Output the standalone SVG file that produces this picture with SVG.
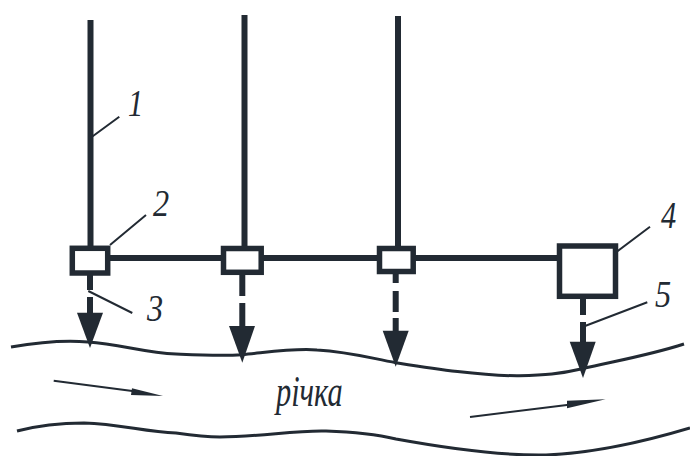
<svg xmlns="http://www.w3.org/2000/svg" width="690" height="456" viewBox="0 0 690 456">
<style>
.pipe{stroke:#222a33;stroke-width:6;fill:none}
.box{stroke:#222a33;stroke-width:5.500;fill:#fff}
.thin{stroke:#222a33;stroke-width:2;fill:none}
.river{stroke:#222a33;stroke-width:3;fill:none}
.head{fill:#222a33}
text{font-family:"Liberation Serif","Times New Roman",serif;font-style:italic;fill:#222a33}
.num{font-size:38px}
</style>
<rect width="690" height="456" fill="#fff"/>
<g id="river">
<path class="river" d="M11 347C40 342 65 340 88 342C120 344 145 353 176 354C200 355 220 356 242 354.700C270 352 295 348 317 350C350 352 370 358 396 362.700C430 368 480 376 519 375.700C545 375 560 374 581 369C620 360 650 355 684 344"/>
<path class="river" d="M17 431C40 425 62 423 84 423C120 424 145 432 176 433C190 435 205 437 220 437C260 437 295 430 326 431C355 432 375 434 396 439C440 447 500 456 546 455C600 453 650 440 690 428"/>
</g>
<g id="connectors">
<path class="pipe" d="M90.500 20V248M244.500 15V248M398 16V248M108 258H222M262 258H378M414 258H558"/>
<path class="pipe" d="M90 275V290M90 297V320M242.300 275V296M242.300 303V326M395.700 274V283M395.700 291V312M395.700 318V335M583 299V315M583 322V344"/>
<polygon class="head" points="77,312.700 103,312.700 90,348"/>
<polygon class="head" points="229,326 255,326 242.300,362.700"/>
<polygon class="head" points="382.700,330.700 408.700,330.700 395.700,366.700"/>
<polygon class="head" points="569.700,341.700 595.700,341.700 583,378"/>
</g>
<g id="leaders">
<path class="thin" d="M91.700 137L119.300 116.700M110 245L146 215M88.300 291L132.300 313M606.700 259.300L650 226.700M585 326L647.300 302.300"/>
</g>
<g id="flow-left">
<path class="thin" d="M53.700 380.700L140 392"/>
<polygon class="head" points="163,396 132,388.300 131,395"/>
</g>
<g id="flow-right">
<path class="thin" d="M470 417L575 404"/>
<polygon class="head" points="605.600,399.300 567,400.700 567,408.300"/>
</g>
<g id="node-1"><rect class="box" x="72.300" y="248.300" width="35.400" height="24.700"/></g>
<g id="node-2"><rect class="box" x="223.500" y="248.500" width="37.700" height="23.800"/></g>
<g id="node-3"><rect class="box" x="379.500" y="248.500" width="33.700" height="23"/></g>
<g id="node-4"><rect class="box" x="559.500" y="246" width="56" height="50.300"/></g>
<g id="labels">
<text class="num" transform="translate(128 116) scale(.8 1)">1</text>
<text class="num" transform="translate(153 216) scale(.85 1)">2</text>
<text class="num" transform="translate(147 321) scale(.85 1)">3</text>
<text class="num" transform="translate(661 228) scale(.8 1)">4</text>
<text class="num" transform="translate(655 307) scale(.85 1)">5</text>
<text font-size="44" transform="translate(276 405.700) scale(.69 1)">річка</text>
</g>
</svg>
